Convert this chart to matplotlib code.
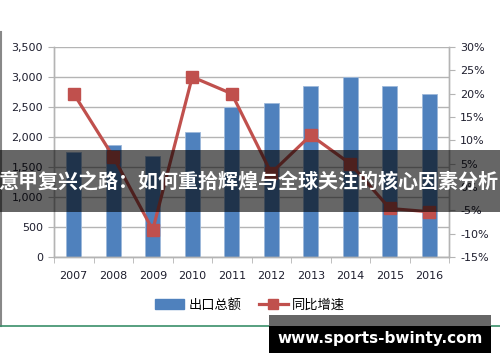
import matplotlib
matplotlib.use("Agg")
import matplotlib.pyplot as plt
from matplotlib.patches import Rectangle
from matplotlib.lines import Line2D
from matplotlib.ticker import FuncFormatter, MultipleLocator
import numpy as np

plt.rcParams['font.family'] = ['DejaVu Sans', 'Noto Sans CJK SC']

years = ['2007', '2008', '2009', '2010', '2011', '2012', '2013', '2014', '2015', '2016']
export_total = [1750, 1860, 1690, 2080, 2500, 2570, 2850, 3000, 2850, 2710]
growth_pct = [20.0, 6.5, -9.2, 23.6, 20.0, 3.0, 11.1, 5.0, -4.6, -5.3]

bar_label = '出口总额'
line_label = '同比增速'
banner_text = '意甲复兴之路：如何重拾辉煌与全球关注的核心因素分析'
watermark = 'www.sports-bwinty.com'

BAR = '#4F81BD'
LINE = '#C0504D'
TXT = '#1E1E2E'
GRID = '#B4B4B4'

fig = plt.figure(figsize=(5, 3.62), dpi=100)
ax = fig.add_axes([0.108, 0.290, 0.79, 0.580])
ax2 = ax.twinx()

x = np.arange(len(years))
ax.bar(x, export_total, width=0.38, color=BAR, edgecolor='#9DB8DA', linewidth=0.6, zorder=2)
ax.set_ylim(0, 3500)
ax.set_xlim(-0.5, len(years) - 0.5)
ax.yaxis.set_major_locator(MultipleLocator(500))
ax.yaxis.set_major_formatter(FuncFormatter(lambda v, p: f'{int(v):,}'))
ax.grid(axis='y', color=GRID, linewidth=1.0, zorder=0)
ax.set_axisbelow(True)
ax.set_xticks(x)
ax.set_xticklabels(years)
ax.set_xticks(np.arange(-0.5, len(years)), minor=True)
ax.tick_params(axis='x', which='major', length=0, pad=10, labelsize=8, labelcolor=TXT)
ax.tick_params(axis='x', which='minor', length=4, color=GRID)
ax.tick_params(axis='y', length=4, color=GRID, labelsize=8, labelcolor=TXT, pad=4)

ax2.plot(x, growth_pct, color=LINE, linewidth=2.3, marker='s', markersize=8, zorder=3)
ax2.set_ylim(-15, 30)
ax2.yaxis.set_major_locator(MultipleLocator(5))
ax2.yaxis.set_major_formatter(FuncFormatter(lambda v, p: f'{int(v)}%'))
ax2.tick_params(axis='y', length=4, color=GRID, labelsize=8, labelcolor=TXT, pad=4)

for a in (ax, ax2):
    a.spines['top'].set_visible(False)
    for s in ('left', 'right', 'bottom'):
        a.spines[s].set_color(GRID)
        a.spines[s].set_linewidth(1.0)

handles = [Rectangle((0, 0), 1, 1, color=BAR),
           Line2D([], [], color=LINE, linewidth=2.3, marker='s', markersize=7)]
fig.legend(handles, [bar_label, line_label], loc='center', bbox_to_anchor=(0.5, 0.157),
           ncol=2, frameon=False, prop={'family': 'Noto Sans CJK SC', 'size': 9.5},
           handlelength=2.2, handletextpad=0.3, columnspacing=1.3)

# chart frame edges
fig.add_artist(Line2D([0.002, 0.002], [1 - 326 / 362, 1 - 32 / 362], color='#888888', linewidth=1.5))
fig.add_artist(Line2D([0, 1], [1 - 326 / 362, 1 - 326 / 362], color='#3A8F6A', linewidth=1.2))

# banner overlay
fig.patches.append(Rectangle((0, 1 - 212 / 362), 1, 62 / 362, transform=fig.transFigure,
                             facecolor='black', alpha=0.6, zorder=10))
fig.text(0.496, 1 - 181 / 362, banner_text, ha='center', va='center', color='white',
         fontsize=14.4, fontweight='bold', family='Noto Sans CJK SC', zorder=11)

# watermark box
fig.patches.append(Rectangle((269 / 500, 1 - 326 / 362), 222 / 500, 11 / 362, transform=fig.transFigure,
                             facecolor='#666666', zorder=10))
fig.patches.append(Rectangle((269 / 500, 1 - 353 / 362), 222 / 500, 27 / 362, transform=fig.transFigure,
                             facecolor='black', zorder=10))
fig.text(380 / 500, 1 - 338 / 362, watermark, ha='center', va='center', color='white',
         fontsize=11, fontweight='bold', zorder=11)

fig.savefig('out.png', dpi=100)
